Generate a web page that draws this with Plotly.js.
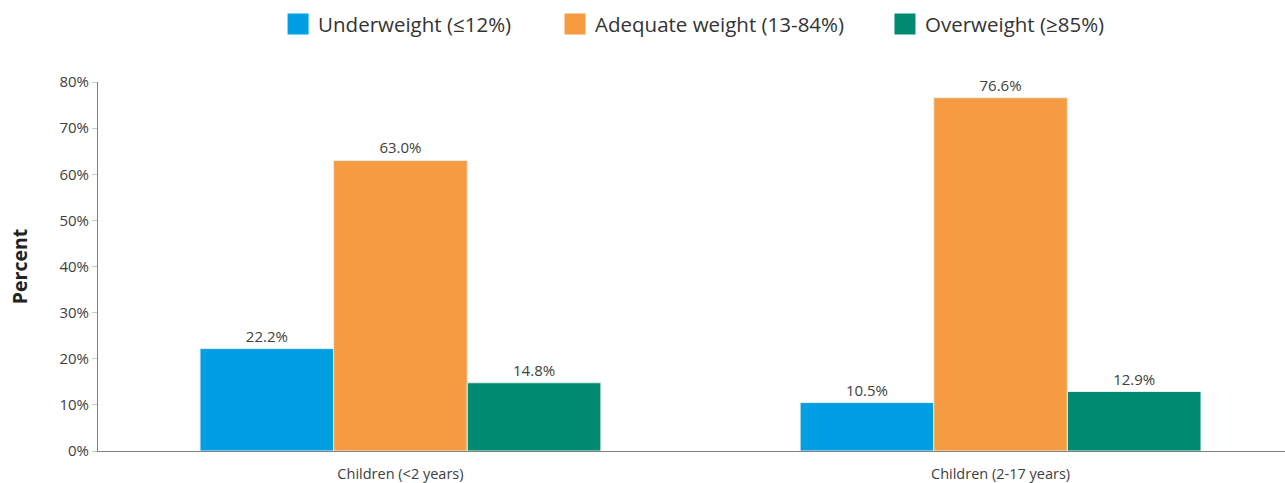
<!DOCTYPE html>
<html>
<head>
<meta charset="utf-8">
<script src="https://cdn.plot.ly/plotly-3.0.1.min.js"></script>
<style>html,body{margin:0;padding:0;background:#fff;}#chart{width:1285px;height:483px;}</style>
</head>
<body>
<div id="chart"></div>
<script>
var categories = ["Children (<2 years)", "Children (2-17 years)"];
var seriesNames = ["Underweight (≤12%)", "Adequate weight (13-84%)", "Overweight (≥85%)"];
var underweight = [22.2, 10.5];
var adequate = [63.0, 76.6];
var overweight = [14.8, 12.9];
var colors = ["#009FE3", "#F59C42", "#008A72"];
var yTicks = [0, 10, 20, 30, 40, 50, 60, 70, 80];
var yTickLabels = ["0%", "10%", "20%", "30%", "40%", "50%", "60%", "70%", "80%"];

var values = [underweight, adequate, overweight];
var legendIds = ["legend", "legend2", "legend3"];
var legendX = [0.1517, 0.3850, 0.6630];

var traces = values.map(function (v, i) {
  return {
    type: "bar",
    name: seriesNames[i],
    x: categories,
    y: v,
    showlegend: false,
    marker: { color: colors[i], line: { color: "#e8eef0", width: 1 } },
    text: v.map(function (n) { return n.toFixed(1) + "%"; }),
    textposition: "outside",
    cliponaxis: false,
    textfont: { family: "Open Sans", size: 15, color: "#404040" },
    hoverinfo: "none"
  };
});
// legend-only entries (larger square swatches), one legend each
seriesNames.forEach(function (name, i) {
  traces.push({
    type: "scatter",
    mode: "markers",
    name: name,
    legend: legendIds[i],
    x: [null],
    y: [null],
    showlegend: true,
    marker: { symbol: "square", size: 16, color: colors[i], line: { color: colors[i], width: 5 } },
    hoverinfo: "none"
  });
});

function legendStyle(x) {
  return {
    orientation: "h",
    x: x, xanchor: "left",
    y: 1.157, yanchor: "middle",
    font: { family: "Open Sans", size: 20.5, color: "#333" },
    itemwidth: 30,
    bgcolor: "rgba(0,0,0,0)"
  };
}

var layout = {
  width: 1285,
  height: 483,
  margin: { l: 98, r: 0, t: 82, b: 32 },
  paper_bgcolor: "#fff",
  plot_bgcolor: "#fff",
  font: { family: "Open Sans", color: "#404040" },
  barmode: "group",
  bargap: 0.332,
  bargroupgap: 0,
  showlegend: true,
  legend: legendStyle(legendX[0]),
  legend2: legendStyle(legendX[1]),
  legend3: legendStyle(legendX[2]),
  xaxis: {
    type: "category",
    range: [-0.504, 1.474],
    showline: true,
    linecolor: "#808080",
    linewidth: 1,
    ticks: "",
    showgrid: false,
    zeroline: false,
    tickfont: { family: "Open Sans", size: 14.5, color: "#404040" },
    ticklabelstandoff: 10
  },
  yaxis: {
    range: [0, 80],
    tickvals: yTicks,
    ticktext: yTickLabels,
    showline: true,
    linecolor: "#808080",
    linewidth: 1,
    ticks: "outside",
    ticklen: 5,
    tickcolor: "#c8c8c8",
    showgrid: false,
    zeroline: false,
    tickfont: { family: "Open Sans", size: 15, color: "#404040" },
    title: { text: "Percent", font: { family: "Open Sans", size: 19.5, color: "#222", weight: "bold" }, standoff: 26 }
  }
};

Plotly.newPlot("chart", traces, layout, { displayModeBar: false, staticPlot: true });
</script>
</body>
</html>
